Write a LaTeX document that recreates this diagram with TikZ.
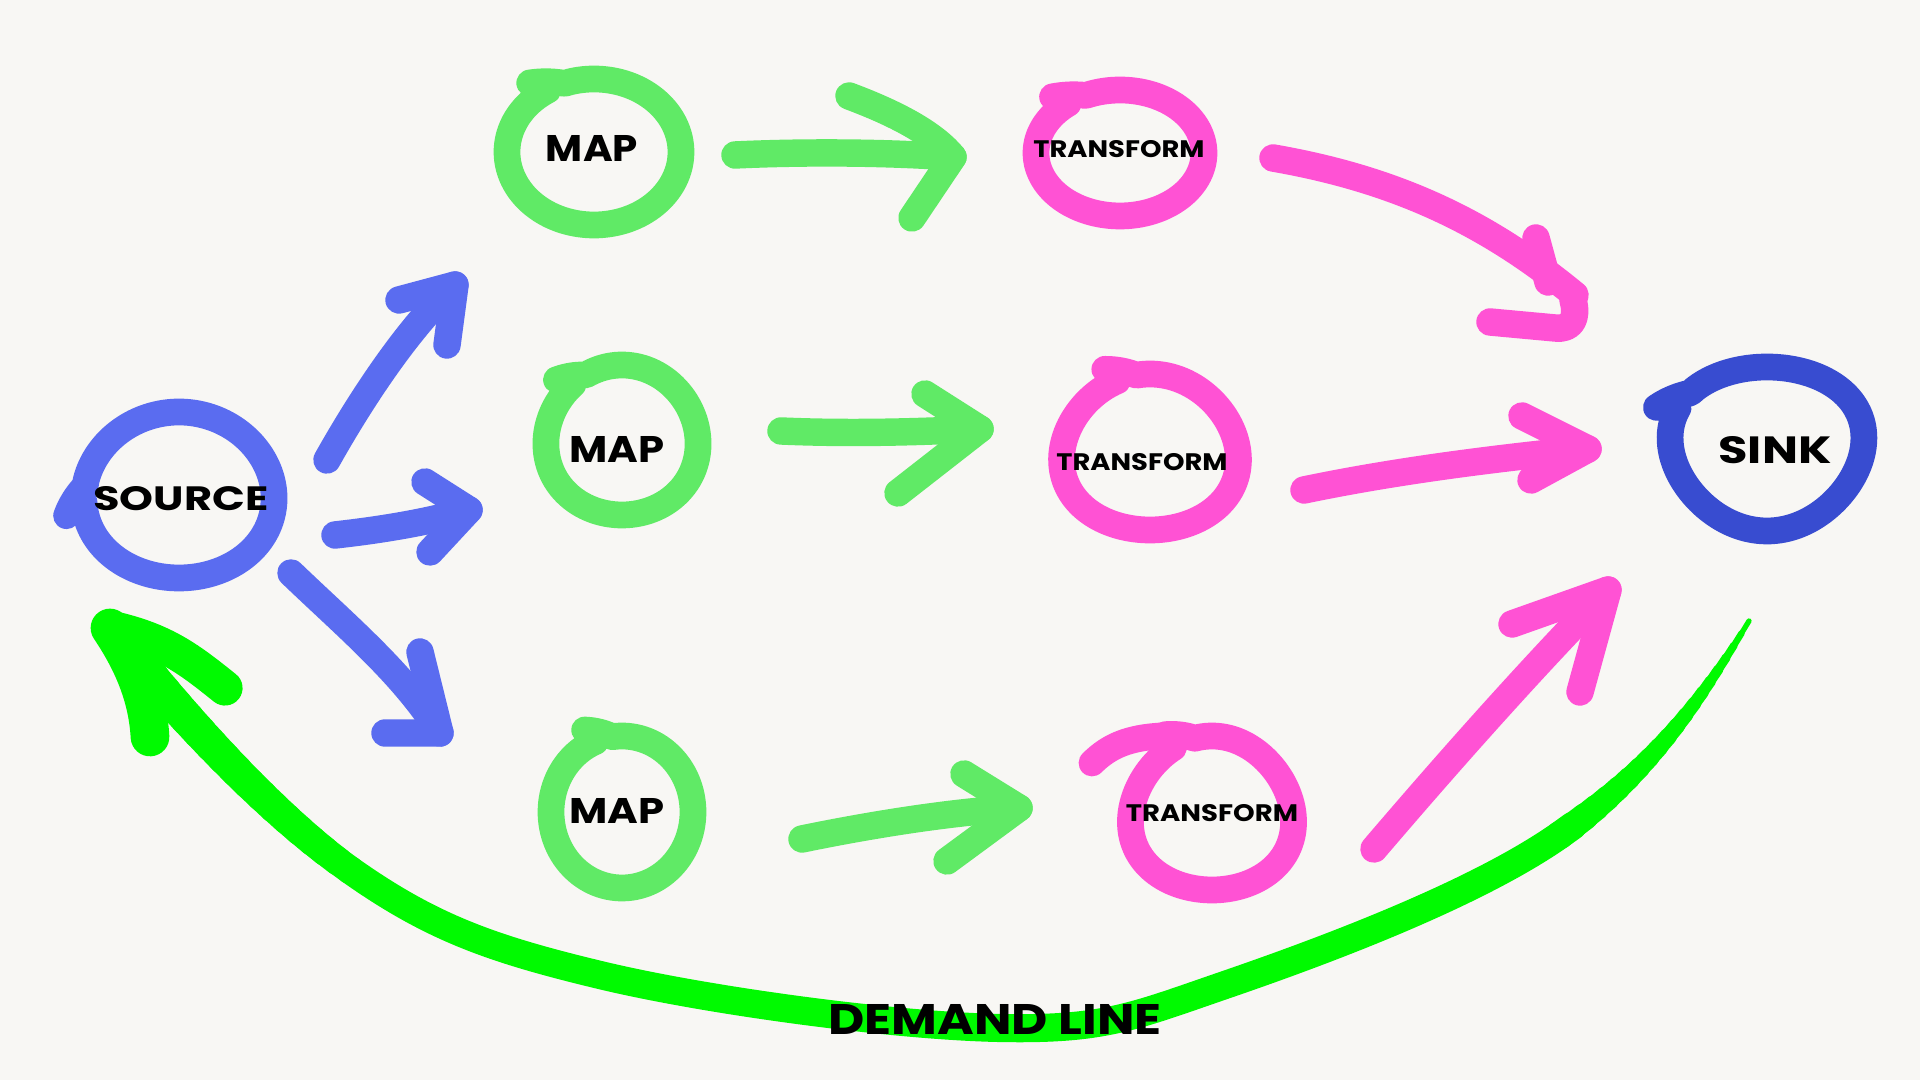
\documentclass[tikz,border=0pt]{standalone}
\usepackage{fontspec}
\newfontfamily\lbl{Poppins}
\usetikzlibrary{calc}
\definecolor{bg}{RGB}{248,247,244}
\definecolor{srcblue}{RGB}{90,108,240}
\definecolor{sinkblue}{RGB}{56,76,208}
\definecolor{mapgreen}{RGB}{96,234,102}
\definecolor{trpink}{RGB}{255,82,212}
\definecolor{demgreen}{RGB}{0,250,0}
% hand-drawn loop: style, cx, cy, rx, ry, start angle, end angle, egg factor
\newcommand\hloop[8]{%
  \draw[#1] plot[domain=#6:#7, samples=120, smooth, variable=\t]
   ({#2+#4*(1+#8*sin(\t))*(1+0.2*max(0,1-(\t-(#6))/18))*cos(\t)},
    {#3+#5*(1+0.2*max(0,1-(\t-(#6))/18))*sin(\t)});}
\begin{document}
\begin{tikzpicture}[x=0.01cm,y=-0.01cm,line cap=round,line join=round,
  loopline/.style={line width=7.6pt},
  arrline/.style={line width=7.8pt},
  txt/.style={inner sep=0pt,text=black}]
\fill[bg] (0,0) rectangle (1920,1080);
\useasboundingbox (0,0) rectangle (1920,1080);

% ---------- demand line (tapered) ----------
\coordinate (dstart) at (1749,621);
\coordinate (dtip) at (110,628);
\foreach \i [evaluate=\i as \t using \i/20] in {0,...,20}{
  \path (dstart) .. controls (1699,704) and (1647,774) .. (1560,835) coordinate[pos=\t] (dq\i);
  \path (350,870) .. controls (268,812) and (177,711) .. (dtip) coordinate[pos=\t] (dh\i);}
\foreach \i [evaluate=\i as \w using 1.5+6.5*\i/19, evaluate=\i as \j using int(\i+1)] in {0,...,19}
  \draw[demgreen,line width=\w pt] (dq\i) -- (dq\j);
\draw[demgreen,line width=8pt] (1560,835) .. controls (1473,896) and (1318,953) .. (1225,985)
  .. controls (1132,1017) and (1104,1030) .. (1000,1028)
  .. controls (896,1026) and (708,1001) .. (600,975)
  .. controls (492,949) and (432,928) .. (350,870);
\foreach \i [evaluate=\i as \w using 8+2.5*\i/19, evaluate=\i as \j using int(\i+1)] in {0,...,19}
  \draw[demgreen,line width=\w pt] (dh\i) -- (dh\j);
\draw[demgreen,line width=10pt] (dtip) .. controls (165,640) and (190,660) .. (225,688);
\draw[demgreen,line width=11pt] (dtip) .. controls (135,665) and (148,700) .. (150,737);

% ---------- loops ----------
\hloop{srcblue,loopline}{179}{495}{95}{83}{168}{535}{0.04}
\hloop{sinkblue,loopline}{1767}{449}{96}{82}{205}{570}{-0.14}
\hloop{mapgreen,loopline}{594}{152}{87}{73}{232}{598}{0}
\hloop{mapgreen,loopline}{622}{440}{76}{75}{222}{588}{0.05}
\hloop{mapgreen,loopline}{622}{812}{71}{76}{244}{608}{0}
\hloop{trpink,loopline}{1120}{153}{84}{63}{228}{592}{0}
\hloop{trpink,loopline}{1150}{452}{88}{78}{242}{606}{0.1}
\hloop{trpink,loopline}{1212}{813}{81}{77}{238}{598}{0.12}
\draw[trpink,loopline] (1092,763) .. controls (1110,745) and (1130,738) .. (1160,736);

% ---------- labels ----------
\node[txt] (src)  at (181,499) {\resizebox{1.75cm}{0.24cm}{\lbl\bfseries SOURCE}};
\node[txt] (map1) at (592,149) {\resizebox{0.92cm}{0.26cm}{\lbl\bfseries MAP}};
\node[txt] (map2) at (617,450) {\resizebox{0.95cm}{0.26cm}{\lbl\bfseries MAP}};
\node[txt] (map3) at (617,811) {\resizebox{0.95cm}{0.25cm}{\lbl\bfseries MAP}};
\node[txt] (tr1)  at (1119,149) {\resizebox{1.71cm}{0.17cm}{\lbl\bfseries TRANSFORM}};
\node[txt] (tr2)  at (1142,462) {\resizebox{1.71cm}{0.17cm}{\lbl\bfseries TRANSFORM}};
\node[txt] (tr3)  at (1212,813) {\resizebox{1.72cm}{0.17cm}{\lbl\bfseries TRANSFORM}};
\node[txt] (sink) at (1775,450) {\resizebox{1.13cm}{0.27cm}{\lbl\bfseries SINK}};
\node[txt] (dem)  at (995,1020) {\resizebox{3.33cm}{0.30cm}{\lbl\bfseries DEMAND LINE}};

% ---------- blue arrows ----------
\coordinate (b1s) at (327,460); \coordinate (b1t) at (455,285);
\draw[srcblue,arrline] (b1s) .. controls (355,410) and (405,330) .. (b1t);
\draw[srcblue,arrline] (399,300) -- (b1t) -- (447,345);
\coordinate (b2s) at (335,535); \coordinate (b2t) at (469,510);
\draw[srcblue,arrline] (b2s) .. controls (380,530) and (430,522) .. (b2t);
\draw[srcblue,arrline] (425,482) -- (b2t) -- (430,552);
\coordinate (b3s) at (291,573); \coordinate (b3t) at (440,733);
\draw[srcblue,arrline] (b3s) .. controls (345,625) and (405,675) .. (b3t);
\draw[srcblue,arrline] (420,652) -- (b3t) -- (385,733);

% ---------- green arrows ----------
\coordinate (g1s) at (735,155); \coordinate (g1t) at (953,157);
\draw[mapgreen,arrline] (g1s) .. controls (800,152) and (880,152) .. (g1t);
\draw[mapgreen,arrline] (849,96) .. controls (900,115) and (935,135) .. (g1t) -- (912,218);
\coordinate (g2s) at (781,431); \coordinate (g2t) at (980,429);
\draw[mapgreen,arrline] (g2s) .. controls (850,434) and (920,432) .. (g2t);
\draw[mapgreen,arrline] (925,394) -- (g2t) -- (898,493);
\coordinate (g3s) at (802,839); \coordinate (g3t) at (1019,808);
\draw[mapgreen,arrline] (g3s) .. controls (870,825) and (950,812) .. (g3t);
\draw[mapgreen,arrline] (964,774) -- (g3t) -- (947,861);

% ---------- pink arrows ----------
\coordinate (p1s) at (1273,158); \coordinate (p1t) at (1575,295);
\draw[trpink,arrline] (p1s) .. controls (1400,180) and (1490,225) .. (p1t);
\draw[trpink,arrline] (1536,238) -- (1548,282);
\draw[trpink,arrline] (1573,300) .. controls (1578,318) and (1572,330) .. (1555,328) -- (1490,322);
\coordinate (p2s) at (1304,490); \coordinate (p2t) at (1588,449);
\draw[trpink,arrline] (p2s) .. controls (1400,470) and (1500,458) .. (p2t);
\draw[trpink,arrline] (1522,416) -- (p2t) -- (1531,480);
\coordinate (p3s) at (1374,849); \coordinate (p3t) at (1608,590);
\draw[trpink,arrline] (p3s) .. controls (1450,760) and (1530,670) .. (p3t);
\draw[trpink,arrline] (1512,624) -- (p3t) -- (1580,692);
\end{tikzpicture}
\end{document}
